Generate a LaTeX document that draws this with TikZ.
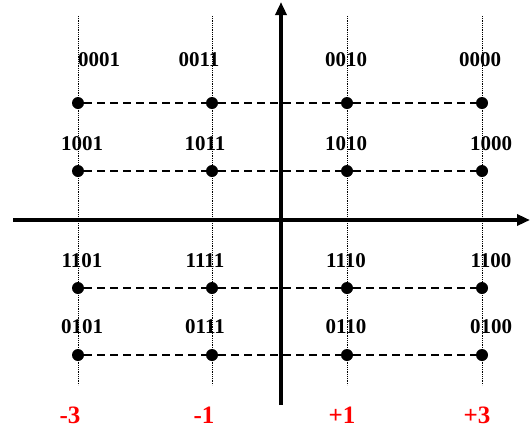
\documentclass[tikz,border=0pt]{standalone}
\usepackage{fontspec}
\setmainfont{Liberation Serif}
\usepackage{tikz}
\usetikzlibrary{arrows.meta}

\begin{document}
\begin{tikzpicture}[
  x=1pt, y=-1pt,
  dot/.style={circle, fill=black, inner sep=0pt, minimum size=12pt},
  code/.style={anchor=base, inner sep=0pt, font=\fontsize{21}{21}\selectfont\bfseries},
  level/.style={anchor=base, inner sep=0pt, text=red, font=\fontsize{25}{25}\selectfont\bfseries},
  guide/.style={densely dotted, line width=0.8pt},
  link/.style={line width=2pt, dash pattern=on 8pt off 5pt},
  axis/.style={-{Triangle[length=13pt, width=11pt]}, line width=4pt}
]
\useasboundingbox (0,0) rectangle (530,432);

% vertical guides
\coordinate (g1t) at (78,16);  \coordinate (g1b) at (78,385);
\coordinate (g2t) at (212,16); \coordinate (g2b) at (212,385);
\coordinate (g3t) at (347,16); \coordinate (g3b) at (347,385);
\coordinate (g4t) at (482,16); \coordinate (g4b) at (482,385);
\draw[guide] (g1t) -- (g1b);
\draw[guide] (g2t) -- (g2b);
\draw[guide] (g3t) -- (g3b);
\draw[guide] (g4t) -- (g4b);

% constellation points
\node[dot] (p11) at (78,103) {};
\node[dot] (p12) at (212,103) {};
\node[dot] (p13) at (347,103) {};
\node[dot] (p14) at (482,103) {};
\node[dot] (p21) at (78,171) {};
\node[dot] (p22) at (212,171) {};
\node[dot] (p23) at (347,171) {};
\node[dot] (p24) at (482,171) {};
\node[dot] (p31) at (78,288) {};
\node[dot] (p32) at (212,288) {};
\node[dot] (p33) at (347,288) {};
\node[dot] (p34) at (482,288) {};
\node[dot] (p41) at (78,355) {};
\node[dot] (p42) at (212,355) {};
\node[dot] (p43) at (347,355) {};
\node[dot] (p44) at (482,355) {};

\draw[link] (p11) -- (p12) -- (p13) -- (p14);
\draw[link] (p21) -- (p22) -- (p23) -- (p24);
\draw[link] (p31) -- (p32) -- (p33) -- (p34);
\draw[link] (p41) -- (p42) -- (p43) -- (p44);

% axes
\coordinate (xl) at (13,220);  \coordinate (xr) at (530,220);
\coordinate (yb) at (281,405); \coordinate (yt) at (281,2);
\draw[axis] (xl) -- (xr);
\draw[axis] (yb) -- (yt);

% bit labels
\node[code] (c11) at (99,66) {0001};
\node[code] (c12) at (199,66) {0011};
\node[code] (c13) at (346,66) {0010};
\node[code] (c14) at (480,66) {0000};
\node[code] (c21) at (82,150) {1001};
\node[code] (c22) at (205,150) {1011};
\node[code] (c23) at (346,150) {1010};
\node[code] (c24) at (491,150) {1000};
\node[code] (c31) at (82,267) {1101};
\node[code] (c32) at (205,267) {1111};
\node[code] (c33) at (346,267) {1110};
\node[code] (c34) at (491,267) {1100};
\node[code] (c41) at (82,333) {0101};
\node[code] (c42) at (205,333) {0111};
\node[code] (c43) at (346,333) {0110};
\node[code] (c44) at (491,333) {0100};

% amplitude levels
\node[level] (m3) at (70,423) {-3};
\node[level] (m1) at (204,423) {-1};
\node[level] (p1) at (342,423) {+1};
\node[level] (p3) at (477,423) {+3};
\end{tikzpicture}
\end{document}
